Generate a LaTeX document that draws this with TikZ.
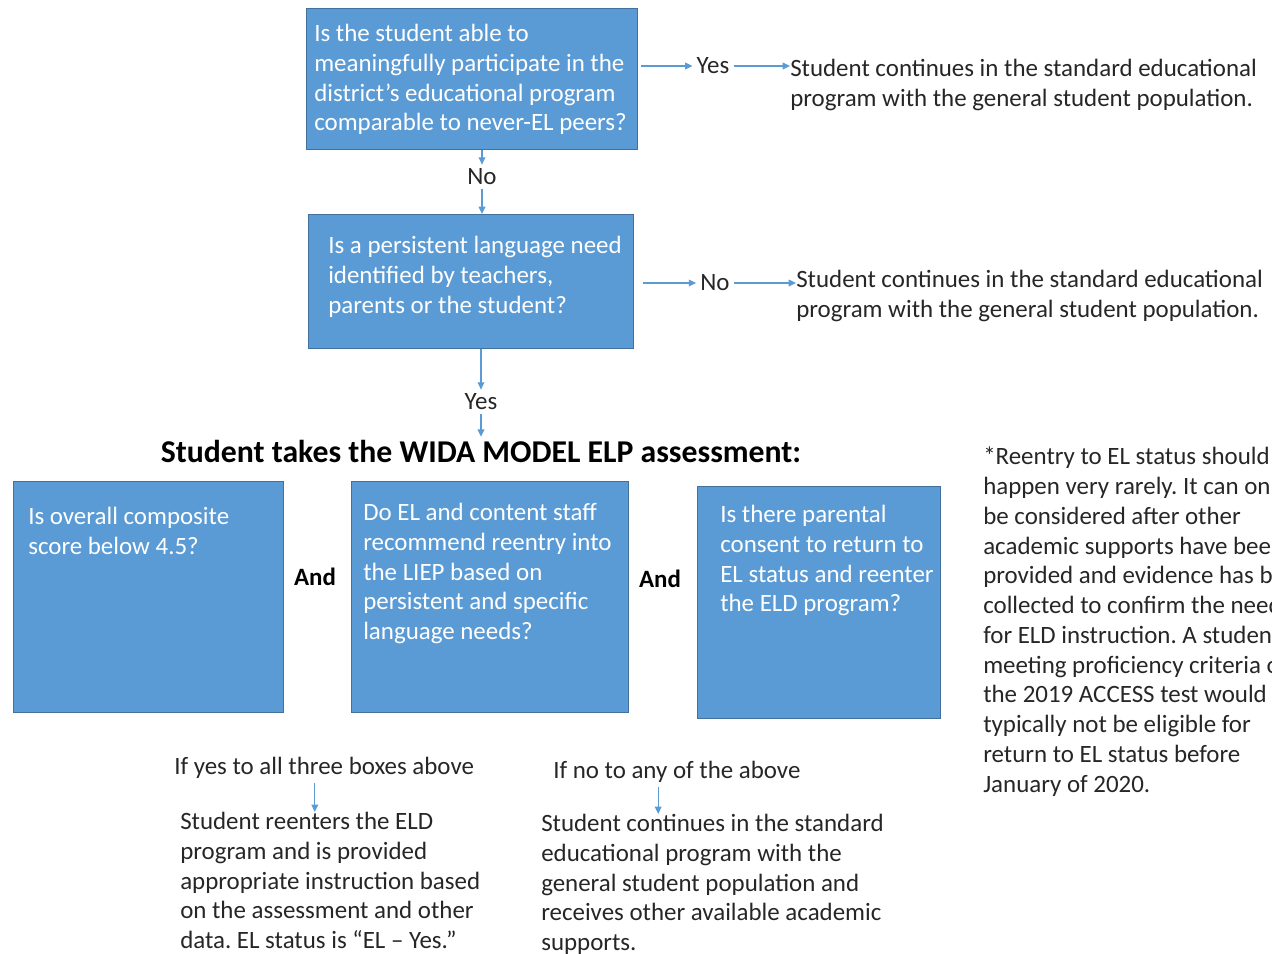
\documentclass[tikz,border=0pt]{standalone}
\usepackage{fontspec}
\setmainfont{Carlito}
\usepackage{xcolor}
\usepackage{tikz}
\usetikzlibrary{positioning,arrows.meta}
\definecolor{boxblue}{RGB}{91,155,213}
\definecolor{edgeblue}{RGB}{65,113,156}
\definecolor{textgray}{RGB}{38,38,38}
\frenchspacing

\begin{document}
\begin{tikzpicture}[x=0.75pt, y=-0.75pt]
    \tikzstyle{question} = [rectangle, draw=edgeblue, fill=boxblue, line width=0.8pt, anchor=north west, inner sep=0pt]
    \tikzstyle{boxtext} = [anchor=north west, inner sep=0pt, align=left, text=white, font=\fontsize{18.7}{22.3}\selectfont]
    \tikzstyle{plain} = [anchor=north west, inner sep=0pt, align=left, text=textgray, font=\fontsize{18.7}{22.3}\selectfont]
    \tikzstyle{answer} = [inner sep=3pt, text=textgray, font=\fontsize{18.7}{22.3}\selectfont]
    \tikzstyle{andlabel} = [inner sep=2pt, text=black, font=\bfseries\fontsize{18.7}{22.3}\selectfont]
    \tikzstyle{link} = [draw=boxblue, line width=1pt, -{Triangle[length=5.5pt,width=5pt]}]

    \useasboundingbox (0,0) rectangle (1272,954);
    \clip (0,0) rectangle (1272,954);

    % First question
    \node [question, minimum width=248.25pt, minimum height=105.75pt] (q1) at (306,8) {};
    \node [boxtext] (q1text) at (314,24) {Is the student able to\\meaningfully participate in the\\district’s educational program\\comparable to never-EL peers?};
    \node [answer] (yes1) at (713,66) {Yes};
    \node [plain] (res1) at (790,59) {Student continues in the standard educational\\program with the general student population.};
    \node [answer] (no1) at (482,177) {No};

    % Second question
    \node [question, minimum width=243.75pt, minimum height=100.5pt] (q2) at (308,214) {};
    \node [boxtext] (q2text) at (328,236) {Is a persistent language need\\identified by teachers,\\parents or the student?};
    \node [answer] (no2) at (715,283) {No};
    \node [plain] (res2) at (796,270) {Student continues in the standard educational\\program with the general student population.};
    \node [answer] (yes2) at (481,402) {Yes};

    % Assessment
    \node [text=black, inner sep=2pt, font=\bfseries\fontsize{23.8}{28}\selectfont] (heading) at (481,451) {Student takes the WIDA MODEL ELP assessment:};

    \node [question, minimum width=202.5pt, minimum height=173.25pt] (q3) at (13,481) {};
    \node [boxtext] (q3text) at (28,507) {Is overall composite\\score below 4.5?};
    \node [andlabel] (and1) at (315,577) {And};

    \node [question, minimum width=207.75pt, minimum height=173.25pt] (q4) at (351,481) {};
    \node [boxtext] (q4text) at (363,503) {Do EL and content staff\\recommend reentry into\\the LIEP based on\\persistent and specific\\language needs?};
    \node [andlabel] (and2) at (660,579) {And};

    \node [question, minimum width=182.25pt, minimum height=174pt] (q5) at (697,486) {};
    \node [boxtext] (q5text) at (720,505) {Is there parental\\consent to return to\\EL status and reenter\\the ELD program?};

    % Note
    \node [plain] (note) at (983,447) {*Reentry to EL status should\\happen very rarely. It can only\\be considered after other\\academic supports have been\\provided and evidence has been\\collected to confirm the need\\for ELD instruction. A student\\meeting proficiency criteria on\\the 2019 ACCESS test would\\typically not be eligible for\\return to EL status before\\January of 2020.};

    % Outcomes
    \node [plain] (ifyes) at (174,757) {If yes to all three boxes above};
    \node [plain] (reenter) at (180,812) {Student reenters the ELD\\program and is provided\\appropriate instruction based\\on the assessment and other\\data. EL status is “EL – Yes.”};
    \node [plain] (ifno) at (553,761) {If no to any of the above};
    \node [plain] (cont) at (541,814) {Student continues in the standard\\educational program with the\\general student population and\\receives other available academic\\supports.};

    % Arrows
    \draw [link, shorten <=2pt] (yes1.west -| q1.east) -- (yes1.west);
    \draw [link] (yes1.east) -- (yes1.east -| res1.west);
    \draw [link] (q1.south -| no1) -- (no1.north);
    \draw [link] (no1.south) -- (no1.south |- q2.north);
    \draw [link, shorten <=7pt] (no2.west -| q2.east) -- (no2.west);
    \draw [link] (no2.east) -- (no2.east -| res2.west);
    \draw [link] (q2.south -| yes2) -- (yes2.north);
    \draw [link] (yes2.south) -- (yes2.south |- heading.north);
    \draw [link, shorten <=3pt] ([xshift=-7pt]ifyes.south) -- ([xshift=-7pt]ifyes.south |- reenter.north);
    \draw [link, shorten <=3pt] ([xshift=-14pt]ifno.south) -- ([xshift=-14pt]ifno.south |- cont.north);
\end{tikzpicture}
\end{document}
